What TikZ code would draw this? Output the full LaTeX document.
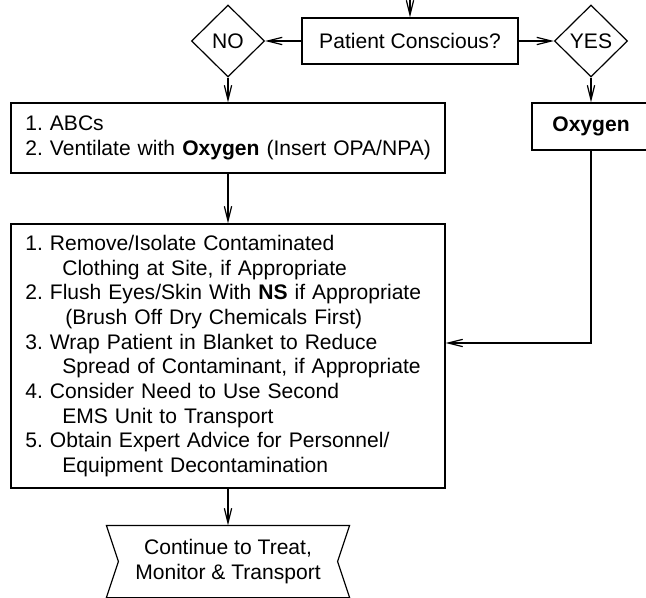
\documentclass[tikz,border=0pt]{standalone}
\usepackage{fontspec}
\setmainfont{Liberation Sans}
\usetikzlibrary{shapes.geometric,arrows.meta}
\tikzset{
  box/.style={draw, line width=0.9pt, inner sep=0pt, font=\fontsize{15.8pt}{18.5pt}\selectfont\frenchspacing},
  listbox/.style={box, align=left, inner xsep=10.75pt, text width=304pt},
  choice/.style={box, diamond, minimum width=54.75pt, minimum height=54pt},
  arr/.style={line width=0.9pt, -{Straight Barb[length=11pt,width=5.5pt]}}
}
\begin{document}
\begin{tikzpicture}[x=0.75pt,y=-0.75pt]
\useasboundingbox (0,0) rectangle (646,598);
\coordinate (top) at (410,0);
\node[box, minimum width=162pt, minimum height=34.5pt] (cons) at (410,41) {Patient Conscious?};
\node[choice] (no) at (228,41) {NO};
\node[choice] (yes) at (591,41) {YES};
\node[listbox, minimum height=52.5pt] (abc) at (228,138) {1. ABCs\\
\mbox{2. Ventilate with \textbf{Oxygen} (Insert OPA/NPA)}};
\node[box, minimum width=88.5pt, minimum height=35.25pt] (oxy) at (591,126.5) {\textbf{Oxygen}};
\node[listbox, minimum height=198pt] (decon) at (228,356) {1. Remove/Isolate Contaminated\\
\hspace*{27.75pt}Clothing at Site, if Appropriate\\
2. Flush Eyes/Skin With \textbf{NS} if Appropriate\\
\hspace*{30pt}(Brush Off Dry Chemicals First)\\
3. Wrap Patient in Blanket to Reduce\\
\hspace*{27.75pt}\mbox{Spread of Contaminant, if Appropriate}\\
4. Consider Need to Use Second\\
\hspace*{27.75pt}EMS Unit to Transport\\
5. Obtain Expert Advice for Personnel/\\
\hspace*{27.75pt}Equipment Decontamination};
\node[box, draw=none, align=center, minimum width=181.5pt, minimum height=53.25pt] (cont) at (228,561.5) {Continue to Treat,\\ Monitor \& Transport};
% notched end shape
\draw[line width=0.9pt] (cont.north west) -- (cont.north east) -- ([xshift=-9pt]cont.east)
  -- (cont.south east) -- (cont.south west) -- ([xshift=9pt]cont.west) -- cycle;

\draw[arr] (top) -- (cons);
\draw[arr] (cons) -- (no);
\draw[arr] (cons) -- (yes);
\draw[arr] (no) -- (abc);
\draw[arr] (yes) -- (oxy);
\draw[arr] (abc) -- (decon);
\draw[arr] (oxy) |- (decon.east |- 0,343);
\draw[arr] (decon) -- (cont);
\end{tikzpicture}
\end{document}
